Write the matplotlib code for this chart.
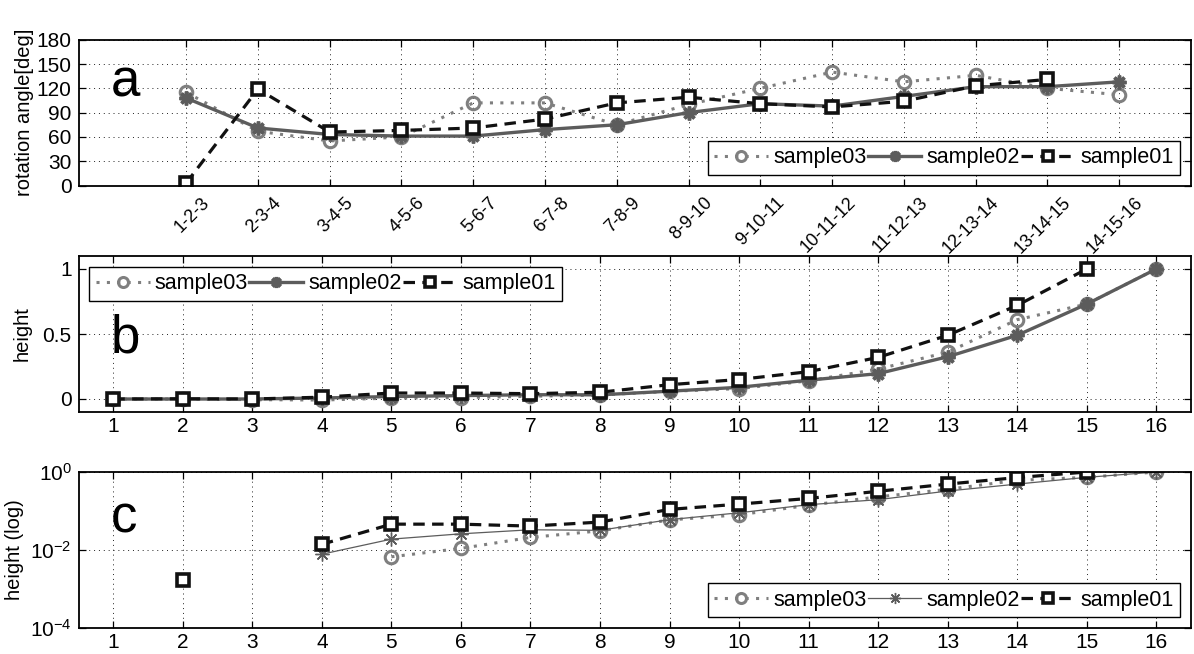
import numpy as np
import matplotlib
matplotlib.use("Agg")
import matplotlib.pyplot as plt
import matplotlib.transforms as mtransforms

plt.rcParams['font.family'] = ['Liberation Sans', 'DejaVu Sans']
plt.rcParams['mathtext.fontset'] = 'custom'
plt.rcParams['mathtext.rm'] = 'Liberation Sans'
plt.rcParams['mathtext.it'] = 'Liberation Sans'

# ---------------- data ----------------
triplets = ['1-2-3', '2-3-4', '3-4-5', '4-5-6', '5-6-7', '6-7-8', '7-8-9',
            '8-9-10', '9-10-11', '10-11-12', '11-12-13', '12-13-14',
            '13-14-15', '14-15-16']
angle03 = [115, 67, 55, 60, 102, 102, 75, 100, 120, 140, 128, 136, 120, 112]
angle02 = [108, 71, 63, 61, 61, 69, 75, 90, 101, 98, 110, 122, 122, 128]
angle01 = [3, 119, 66, 68, 71, 82, 102, 109, 101, 97, 104, 123, 131, np.nan]

nodes = list(range(1, 17))
height03 = [0, 0, -0.005, -0.008, 0.0067, 0.011, 0.021, 0.031, 0.059, 0.08,
            0.14, 0.23, 0.36, 0.61, 0.73, 1.0]
height02 = [0, 0, 0, 0.0078, 0.019, 0.026, 0.033, 0.032, 0.06, 0.09,
            0.145, 0.195, 0.325, 0.49, 0.73, 1.0]
height01 = [0, 0.0017, 0, 0.014, 0.046, 0.046, 0.041, 0.052, 0.11, 0.15,
            0.21, 0.32, 0.49, 0.72, 1.0, np.nan]
labels = ['sample03', 'sample02', 'sample01']

# ---------------- styles ----------------
c03 = '#7f7f7f'
c02 = '#5c5c5c'
c01 = '#111111'
ast = (8, 2, 0)
s03 = dict(color=c03, linestyle=(0, (1, 2.4)), lw=2.2, marker='o', ms=9,
           mfc='none', mec=c03, mew=2.2)
s02 = dict(color=c02, linestyle='-', lw=2.4, marker=ast, ms=10, mec=c02, mew=2.5)
s02thin = dict(color=c02, linestyle='-', lw=0.9, marker=ast, ms=10, mec=c02, mew=1.0)
s01 = dict(color=c01, linestyle=(0, (3.6, 2.3)), lw=2.3, marker='s', ms=9,
           mfc='white', mec=c01, mew=2.6)

TICK = 15
LAB = 14.5

fig = plt.figure(figsize=(11.94, 6.54), dpi=100)
L, W = 78.5 / 1194, (1191 - 78.5) / 1194
axa = fig.add_axes([L, 1 - 185.5 / 654, W, (185.5 - 39.7) / 654])
axb = fig.add_axes([L, 1 - 412 / 654, W, 156 / 654])
axc = fig.add_axes([L, 1 - 628 / 654, W, 156 / 654])

def style(ax):
    ax.grid(True, color='#222222', linestyle=(0, (1, 4)), lw=0.7)
    ax.set_axisbelow(True)
    ax.tick_params(direction='in', top=True, right=True, length=5,
                   width=0.9, labelsize=TICK, pad=5)
    ax.tick_params(axis='x', pad=3.5)
    for sp in ax.spines.values():
        sp.set_linewidth(1.3)
        sp.set_color('black')

def legend(ax, loc):
    lg = ax.legend(loc=loc, ncol=3, fontsize=15.5, handlelength=2.5,
                   handletextpad=0.25, columnspacing=0.05, borderpad=0.3,
                   borderaxespad=0.5, fancybox=False, framealpha=1,
                   edgecolor='black', markerscale=0.8)
    lg.get_frame().set_linewidth(1.0)
    return lg

# ---------------- panel a ----------------
xa = np.arange(1, len(triplets) + 1)
axa.plot(xa, angle03, label=labels[0], **s03)
axa.plot(xa, angle02, label=labels[1], **s02)
axa.plot(xa, angle01, label=labels[2], **s01)
axa.set_xlim(-0.5, 15)
axa.set_ylim(0, 180)
axa.set_yticks(np.arange(0, 181, 30))
axa.set_xticks(xa)
style(axa)
axa.set_xticklabels(triplets, rotation=45, ha='right', va='center',
                    rotation_mode='anchor', fontsize=13)
axa.tick_params(axis='x', pad=10.5)
shift = mtransforms.ScaledTranslation(0.21, 0, fig.dpi_scale_trans)
for t in axa.get_xticklabels():
    t.set_transform(t.get_transform() + shift)
axa.set_ylabel('rotation angle[deg]', fontsize=LAB, labelpad=2)
axa.text(0.029, 0.61, 'a', transform=axa.transAxes, fontsize=38,
         ha='left', va='baseline')
legend(axa, 'lower right')

# ---------------- panel b ----------------
axb.plot(nodes, height03, label=labels[0], **s03)
axb.plot(nodes, height02, label=labels[1], **s02)
axb.plot(nodes, height01, label=labels[2], **s01)
axb.set_xlim(0.5, 16.5)
axb.set_ylim(-0.1, 1.1)
axb.set_xticks(nodes)
axb.set_yticks([0, 0.5, 1])
axb.set_yticklabels(['0', '0.5', '1'])
style(axb)
axb.set_ylabel('height', fontsize=LAB, labelpad=8)
axb.text(0.029, 0.38, 'b', transform=axb.transAxes, fontsize=38,
         ha='left', va='baseline')
legend(axb, 'upper left')

# ---------------- panel c ----------------
axc.set_yscale('log', nonpositive='mask')
axc.plot(nodes, height03, label=labels[0], **s03)
axc.plot(nodes, height02, label=labels[1], **s02thin)
axc.plot(nodes, height01, label=labels[2], **s01)
axc.set_xlim(0.5, 16.5)
axc.set_ylim(1e-4, 1)
axc.set_xticks(nodes)
axc.set_yticks([1e-4, 1e-2, 1])
axc.yaxis.set_minor_locator(matplotlib.ticker.NullLocator())
style(axc)
axc.set_ylabel('height (log)', fontsize=LAB, labelpad=4)
axc.text(0.029, 0.615, 'c', transform=axc.transAxes, fontsize=38,
         ha='left', va='baseline')
legend(axc, 'lower right')

fig.savefig('out.png', dpi=100)
